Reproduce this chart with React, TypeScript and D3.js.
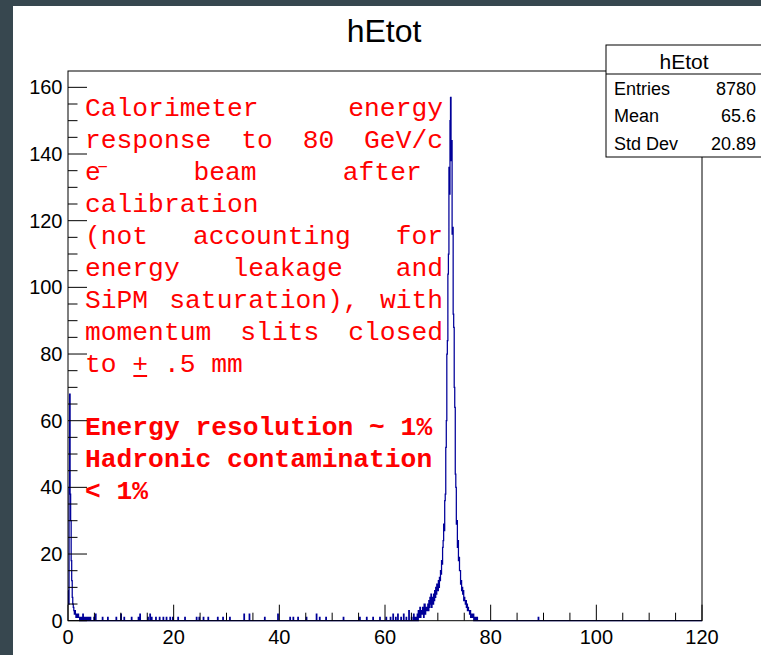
import React from "react";
import * as d3 from "d3";

// ---------- data ----------
const BIN_WIDTH = 0.1;
const X_DOMAIN = [0, 120];
const Y_MAX = 164.9;

// bins 0.0 .. 2.9
const lowStart = 0.0;
const lowCounts = [9, 5, 40, 68, 38, 30, 18, 12, 7, 5, 4, 3, 2, 3, 2, 1, 2, 1, 1, 2, 1, 1, 0, 1, 1, 0, 1, 0, 2, 0];

// bins 66.0 .. 77.9
const peakStart = 66.0;
const peakCounts = [
  1, 2, 0, 3, 1, 2, 4, 1, 2, 3,
  2, 4, 3, 1, 5, 5, 2, 4, 3, 3,
  4, 5, 3, 6, 4, 7, 5, 8, 4, 6,
  7, 5, 8, 6, 9, 7, 10, 8, 11, 9,
  9, 12, 10, 13, 12, 15, 14, 18, 17, 22,
  24, 29, 27, 36, 38, 52, 60, 80, 84, 104,
  110, 136, 128, 150, 157, 138, 144, 116, 118, 92,
  88, 70, 64, 44, 40, 29, 30, 22, 24, 18,
  19, 15, 15, 11, 12, 9, 10, 8, 9, 6,
  7, 6, 5, 6, 4, 5, 3, 4, 3, 3,
  2, 3, 1, 2, 2, 1, 1, 2, 0, 1,
  0, 1, 0, 0, 1, 0, 0, 0, 0, 0,
];

// isolated entries [bin centre, count]
const scatterBins: [number, number][] = [
  [3.1, 1], [3.4, 1], [3.7, 1], [4.0, 1], [4.3, 1], [4.9, 1], [5.3, 2],
  [6.6, 1], [7.6, 1], [9.2, 1], [10.1, 2], [10.7, 1], [12.0, 1], [13.3, 1], [13.6, 2],
  [15.1, 1], [15.5, 2], [15.8, 1], [16.7, 1], [17.4, 1], [18.0, 1], [18.6, 1], [19.3, 1],
  [19.9, 1], [20.8, 1], [22.1, 1], [24.3, 1], [24.9, 1], [25.6, 1], [26.5, 1], [28.4, 1],
  [29.3, 1], [30.6, 1], [33.4, 2], [34.4, 2], [37.2, 1], [39.8, 2], [42.0, 1], [42.6, 1],
  [43.5, 1], [45.1, 1], [47.0, 2], [47.6, 1], [48.9, 1], [52.1, 1], [55.2, 1], [56.5, 1],
  [57.7, 1], [59.0, 1], [60.3, 1], [61.0, 1], [61.5, 2], [62.0, 1], [62.4, 2], [63.0, 1],
  [63.5, 2], [64.0, 1], [64.6, 3], [65.0, 1], [65.4, 2], [65.8, 1], [89.0, 1],
];

const yMajorTicks = [0, 20, 40, 60, 80, 100, 120, 140, 160];
const xMajorTicks = [0, 20, 40, 60, 80, 100, 120];

const titleText = "hEtot";
const statsRows: [string, string][] = [
  ["Entries", "8780"],
  ["Mean", "65.6"],
  ["Std Dev", "20.89"],
];

// annotation lines: words, justified right edge (null = natural spacing)
const noteLines: { words: string[]; right: number | null }[] = [
  { words: ["Calorimeter", "energy"], right: 443 },
  { words: ["response", "to", "80", "GeV/c"], right: 443 },
  { words: ["e\u207B", "beam", "after"], right: 421.7 },
  { words: ["calibration"], right: null },
  { words: ["(not", "accounting", "for"], right: 443 },
  { words: ["energy", "leakage", "and"], right: 443 },
  { words: ["SiPM", "saturation),", "with"], right: 443 },
  { words: ["momentum", "slits", "closed"], right: 443 },
  { words: ["to", "+", ".5", "mm"], right: null },
];
const boldLines = ["Energy resolution ~ 1%", "Hadronic contamination", "< 1%"];

// ---------- layout ----------
const W = 761;
const H = 655;
const frame = { left: 68, right: 702, top: 71, bottom: 620.7 };
const BLUE = "#000099";
const RED = "#ff0000";
const SANS = "'Liberation Sans', Arial, Helvetica, sans-serif";
const MONO = "'Courier New', 'Liberation Mono', monospace";
const MONO_SIZE = 26.3;
const CHAR_W = MONO_SIZE * 0.6;

export default function App() {
  const x = d3.scaleLinear().domain(X_DOMAIN).range([frame.left, frame.right]);
  const y = d3.scaleLinear().domain([0, Y_MAX]).range([frame.bottom, frame.top]);

  const nBins = Math.round((X_DOMAIN[1] - X_DOMAIN[0]) / BIN_WIDTH);
  const bins = new Array(nBins).fill(0);
  lowCounts.forEach((c, i) => (bins[Math.round(lowStart / BIN_WIDTH) + i] += c));
  peakCounts.forEach((c, i) => (bins[Math.round(peakStart / BIN_WIDTH) + i] += c));
  scatterBins.forEach(([xc, c]) => (bins[Math.floor(xc / BIN_WIDTH)] += c));

  const pts: [number, number][] = [];
  bins.forEach((c, i) => {
    const lo = X_DOMAIN[0] + i * BIN_WIDTH;
    pts.push([lo, c], [lo + BIN_WIDTH, c]);
  });
  const line = d3
    .line<[number, number]>()
    .x((d) => x(d[0]))
    .y((d) => y(d[1]));
  const histPath = line(pts) || "";

  const yMinor = d3.range(0, Y_MAX, 5);
  const xMinor = d3.range(0, 120.01, 5);

  const noteX = 85;
  const noteY0 = 116;
  const lineH = 32;

  const renderNoteLine = (ln: { words: string[]; right: number | null }, li: number) => {
    const isSup = (w: string) => w === "e\u207B";
    const lens = ln.words.map((w) => (isSup(w) ? 1.4 : w.length));
    const total = lens.reduce((a, b) => a + b, 0) * CHAR_W;
    const gap =
      ln.right !== null && ln.words.length > 1
        ? (ln.right - noteX - total) / (ln.words.length - 1)
        : CHAR_W;
    let cx = noteX;
    const by = noteY0 + li * lineH;
    return ln.words.map((w, wi) => {
      const px = cx;
      cx += lens[wi] * CHAR_W + gap;
      return (
        <g key={`${li}-${wi}`}>
          <text
            x={px}
            y={by}
            fontFamily={MONO}
            fontSize={MONO_SIZE}
            fill={RED}
            letterSpacing={isSup(w) ? -6 : 0}
          >
            {w}
          </text>
          {w === "+" && (
            <line x1={px + 1} x2={px + CHAR_W - 1} y1={by + 4} y2={by + 4} stroke={RED} strokeWidth={2} />
          )}
        </g>
      );
    });
  };

  return (
    <svg width={W} height={H} style={{ position: "absolute", left: 0, top: 0 }}>
      <rect x={0} y={0} width={W} height={H} fill="#37474f" />
      <rect x={13} y={6} width={W - 13} height={H - 6} fill="#ffffff" />

      {/* title */}
      <text x={384} y={42} textAnchor="middle" fontFamily={SANS} fontSize={32} fill="#000">
        {titleText}
      </text>

      {/* histogram */}
      <path d={histPath} fill="none" stroke={BLUE} strokeWidth={1.25} />

      {/* frame */}
      <rect
        x={frame.left}
        y={frame.top}
        width={frame.right - frame.left}
        height={frame.bottom - frame.top}
        fill="none"
        stroke="#000"
        strokeWidth={1}
      />

      {/* y ticks */}
      {yMinor.map((v) => (
        <line
          key={`ym${v}`}
          x1={frame.left}
          x2={frame.left + (v % 20 === 0 ? 19 : 9.5)}
          y1={y(v)}
          y2={y(v)}
          stroke="#000"
          strokeWidth={1}
        />
      ))}
      {yMajorTicks.map((v) => (
        <text
          key={`yl${v}`}
          x={62.5}
          y={y(v) + 7}
          textAnchor="end"
          fontFamily={SANS}
          fontSize={20}
          fill="#000"
        >
          {v}
        </text>
      ))}

      {/* x ticks */}
      {xMinor.map((v) => (
        <line
          key={`xm${v}`}
          x1={x(v)}
          x2={x(v)}
          y1={frame.bottom}
          y2={frame.bottom - (v % 20 === 0 ? 16 : 8)}
          stroke="#000"
          strokeWidth={1}
        />
      ))}
      {xMajorTicks.map((v) => (
        <text
          key={`xl${v}`}
          x={x(v)}
          y={643.5}
          textAnchor="middle"
          fontFamily={SANS}
          fontSize={20}
          fill="#000"
        >
          {v}
        </text>
      ))}

      {/* stats box */}
      <rect x={606} y={45} width={170} height={112} fill="#fff" stroke="#000" strokeWidth={1} />
      <line x1={606} x2={W} y1={74} y2={74} stroke="#000" strokeWidth={1} />
      <text x={684} y={69} textAnchor="middle" fontFamily={SANS} fontSize={21} fill="#000">
        {titleText}
      </text>
      {statsRows.map(([k, v], i) => (
        <g key={k}>
          <text x={614} y={94.5 + i * 27.5} fontFamily={SANS} fontSize={18} fill="#000">
            {k}
          </text>
          <text x={756} y={94.5 + i * 27.5} textAnchor="end" fontFamily={SANS} fontSize={18} fill="#000">
            {v}
          </text>
        </g>
      ))}

      {/* annotation */}
      {noteLines.map((ln, li) => renderNoteLine(ln, li))}
      {boldLines.map((t, i) => (
        <text
          key={t}
          x={noteX}
          y={435 + i * lineH}
          fontFamily={MONO}
          fontSize={MONO_SIZE}
          fontWeight="bold"
          fill={RED}
          style={{ whiteSpace: "pre" }}
        >
          {t}
        </text>
      ))}
    </svg>
  );
}
